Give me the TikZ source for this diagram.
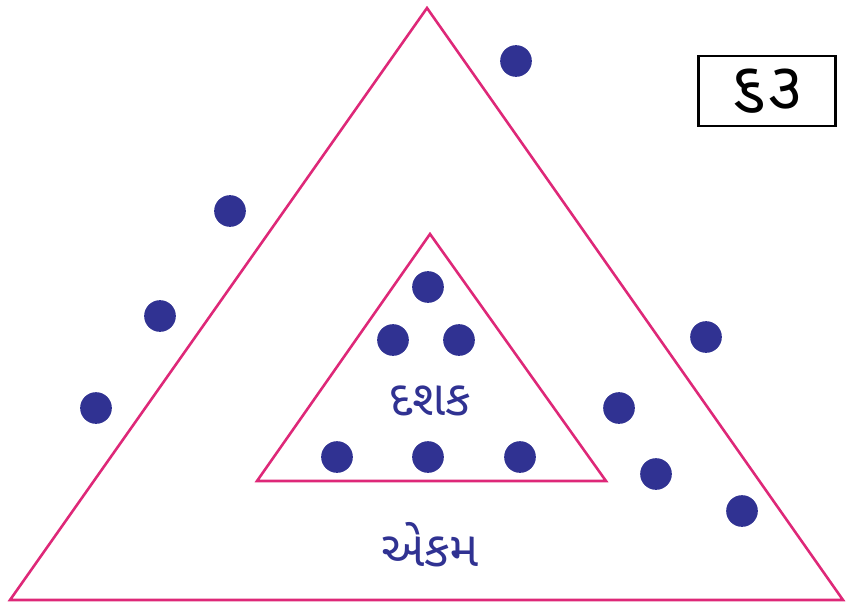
\documentclass[tikz,border=0pt]{standalone}
\usepackage{fontspec}
\newfontfamily\gujfont[Script=Gujarati]{Noto Sans Gujarati UI}
\definecolor{trpink}{RGB}{222,40,120}
\definecolor{dotblue}{RGB}{48,50,146}
\begin{document}
\begin{tikzpicture}[
  x=0.03cm,y=-0.03cm,
  dot/.style={circle,fill=dotblue,inner sep=0pt,minimum size=0.95cm},
  tri/.style={draw=trpink,line width=2.2pt,line join=miter},
  label/.style={font=\gujfont\fontsize{42}{46}\selectfont,text=dotblue}
]
  \useasboundingbox (0,0) rectangle (847,611);
  % outer triangle (units)
  \coordinate (otop) at (427,8);
  \coordinate (oleft) at (10,600);
  \coordinate (oright) at (843,600);
  \draw[tri] (otop) -- (oleft) -- (oright) -- cycle;
  % inner triangle (tens)
  \coordinate (itop) at (430,234);
  \coordinate (ileft) at (257,481);
  \coordinate (iright) at (606,481);
  \draw[tri] (itop) -- (ileft) -- (iright) -- cycle;
  % number box
  \node[draw,line width=2.2pt,minimum width=4.1cm,minimum height=2.1cm,
    font=\gujfont\fontsize{56}{60}\selectfont] (num) at (767,91) {૬૩};
  % tens dots
  \node[dot] (t1) at (428,287) {};
  \node[dot] (t2) at (393,340) {};
  \node[dot] (t3) at (459,340) {};
  \node[dot] (t4) at (337,457) {};
  \node[dot] (t5) at (428,457) {};
  \node[dot] (t6) at (520,457) {};
  % unit dots
  \node[dot] (u1) at (516,61) {};
  \node[dot] (u2) at (230,211) {};
  \node[dot] (u3) at (160,316) {};
  \node[dot] (u4) at (96,408) {};
  \node[dot] (u5) at (706,337) {};
  \node[dot] (u6) at (619,408) {};
  \node[dot] (u7) at (656,474) {};
  \node[dot] (u8) at (742,511) {};
  % labels
  \node[label] (tens) at (430,401) {દશક};
  \node[label] (units) at (430,545) {એકમ};
\end{tikzpicture}
\end{document}
